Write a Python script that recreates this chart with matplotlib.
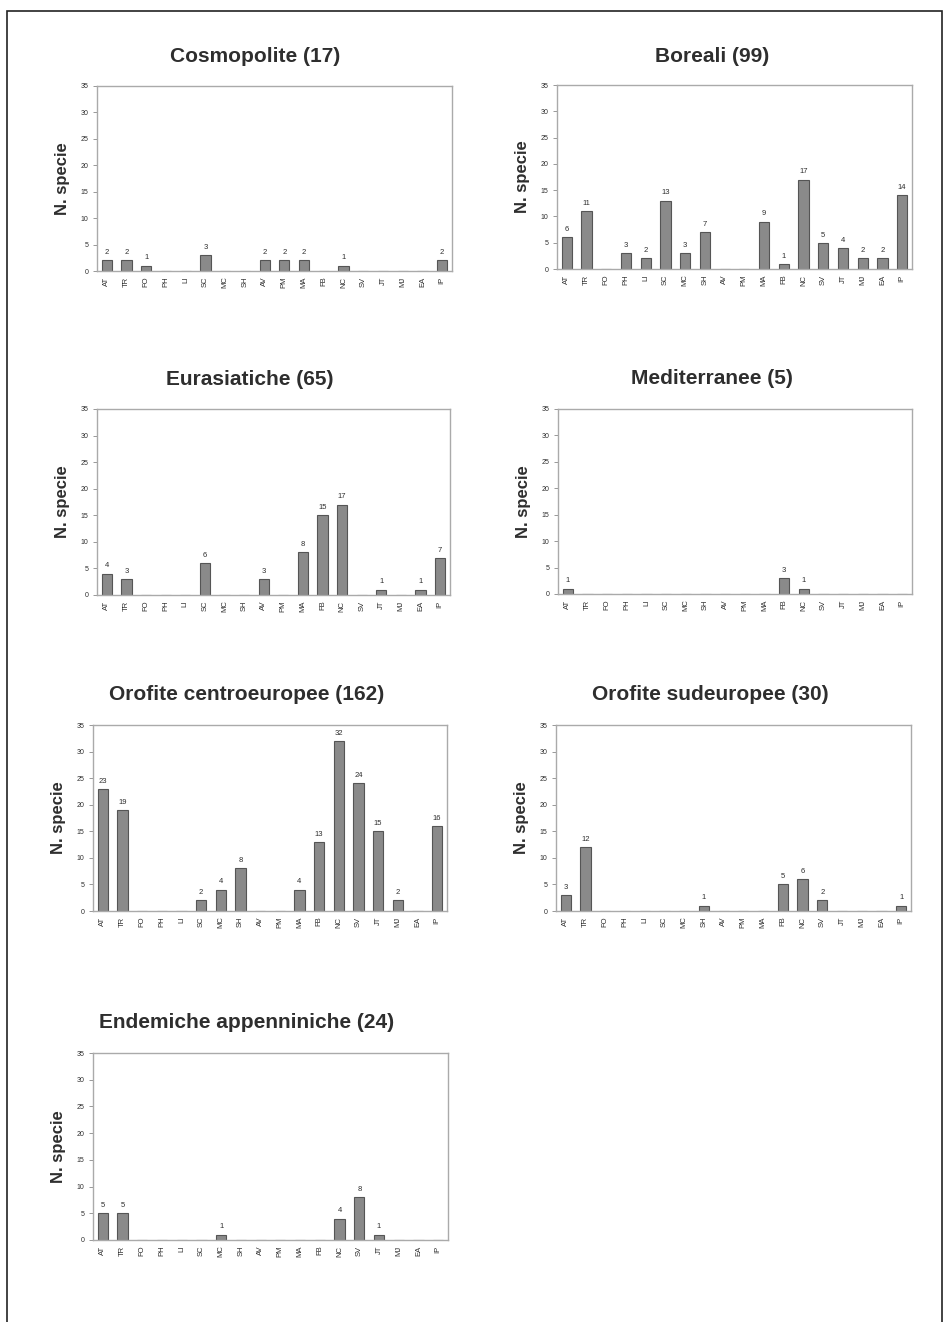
import matplotlib
matplotlib.use("Agg")
import matplotlib.pyplot as plt
from matplotlib.patches import Rectangle

plt.rcParams['font.family'] = ['Liberation Sans', 'DejaVu Sans']

categories = ["AT", "TR", "FO", "PH", "LI", "SC", "MC", "SH", "AV", "PM",
              "MA", "FB", "NC", "SV", "JT", "MJ", "EA", "IP"]

cosmopolite = [2, 2, 1, 0, 0, 3, 0, 0, 2, 2, 2, 0, 1, 0, 0, 0, 0, 2]
boreali = [6, 11, 0, 3, 2, 13, 3, 7, 0, 0, 9, 1, 17, 5, 4, 2, 2, 14]
eurasiatiche = [4, 3, 0, 0, 0, 6, 0, 0, 3, 0, 8, 15, 17, 0, 1, 0, 1, 7]
mediterranee = [1, 0, 0, 0, 0, 0, 0, 0, 0, 0, 0, 3, 1, 0, 0, 0, 0, 0]
orofite_centro = [23, 19, 0, 0, 0, 2, 4, 8, 0, 0, 4, 13, 32, 24, 15, 2, 0, 16]
orofite_sud = [3, 12, 0, 0, 0, 0, 0, 1, 0, 0, 0, 5, 6, 2, 0, 0, 0, 1]
endemiche = [5, 5, 0, 0, 0, 0, 1, 0, 0, 0, 0, 0, 4, 8, 1, 0, 0, 0]

titles = ["Cosmopolite (17)", "Boreali (99)", "Eurasiatiche (65)", "Mediterranee (5)",
          "Orofite centroeuropee (162)", "Orofite sudeuropee (30)",
          "Endemiche appenniniche (24)"]
series = [cosmopolite, boreali, eurasiatiche, mediterranee,
          orofite_centro, orofite_sud, endemiche]
yticks = [0, 5, 10, 15, 20, 25, 30, 35]
ylabel = "N. specie"

W, H = 949, 1322
fig = plt.figure(figsize=(W / 100, H / 100), dpi=100)
fig.patch.set_facecolor("white")

# outer frame
fig.add_artist(Rectangle((7 / W, -0.01), (942 - 7) / W, (H - 11) / H + 0.01,
                         transform=fig.transFigure, fill=False,
                         edgecolor="#222222", linewidth=1.2))

# axes boxes in pixels: left, top, right, bottom ; title (x, y)
boxes = [
    (97, 86, 452, 271, 255, 56),
    (557, 85, 912, 269, 712, 56),
    (97, 409, 450, 595, 250, 380),
    (558, 409, 912, 594, 712, 379),
    (93, 725, 447, 911, 247, 694),
    (556, 725, 911, 911, 710, 695),
    (93, 1053, 448, 1240, 247, 1023),
]

text_col = "#2e2e2e"
for (l, t, r, b, tx, ty), vals, title in zip(boxes, series, titles):
    ax = fig.add_axes([l / W, 1 - b / H, (r - l) / W, (b - t) / H])
    x = list(range(len(categories)))
    ax.bar(x, vals, width=0.52, color="#8a8a8a", edgecolor="#555555",
           linewidth=0.8)
    for xi, v in zip(x, vals):
        if v > 0:
            ax.text(xi, v + 0.8, str(v), ha="center", va="bottom",
                    fontsize=5.5, color=text_col)
    ax.set_xlim(-0.5, 17.5)
    ax.set_ylim(0, 35)
    ax.set_yticks(yticks)
    ax.set_yticklabels([str(v) for v in yticks], fontsize=5, color=text_col)
    ax.set_xticks(x)
    ax.set_xticklabels(categories, rotation=90, fontsize=5.5, color=text_col)
    ax.tick_params(axis="y", length=3, width=0.6, color="#888888", pad=3)
    ax.tick_params(axis="x", length=0, pad=4)
    for s in ax.spines.values():
        s.set_color("#aaaaaa")
        s.set_linewidth(1.0)
    ax.set_ylabel(ylabel, fontsize=12, fontweight="bold", color=text_col,
                  labelpad=8)
    fig.text(tx / W, 1 - ty / H, title, ha="center", va="center",
             fontsize=15, fontweight="bold", color=text_col)

fig.savefig("out.png", dpi=100, facecolor="white")
